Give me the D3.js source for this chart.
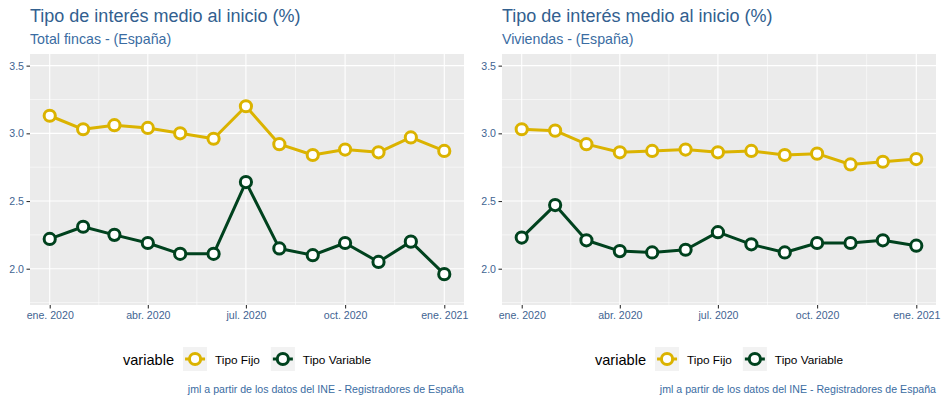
<!DOCTYPE html>
<html><head><meta charset="utf-8">
<script src="https://cdn.jsdelivr.net/npm/d3@7"></script>
<style>body{margin:0;background:#fff}svg{display:block}text{font-family:"Liberation Sans",Arial,sans-serif}</style>
</head><body><svg id="c" width="944" height="404"></svg>
<script>
const months = ["2020-01-01","2020-02-01","2020-03-01","2020-04-01","2020-05-01","2020-06-01","2020-07-01","2020-08-01","2020-09-01","2020-10-01","2020-11-01","2020-12-01","2021-01-01"];
const totalFijo = [3.13,3.03,3.06,3.04,3.00,2.96,3.20,2.92,2.84,2.88,2.86,2.97,2.87];
const totalVariable = [2.22,2.31,2.25,2.19,2.11,2.11,2.64,2.15,2.10,2.19,2.05,2.20,1.96];
const viviendasFijo = [3.03,3.02,2.92,2.86,2.87,2.88,2.86,2.87,2.84,2.85,2.77,2.79,2.81];
const viviendasVariable = [2.23,2.47,2.21,2.13,2.12,2.14,2.27,2.18,2.12,2.19,2.19,2.21,2.17];
const xTickDates = ["2020-01-01","2020-04-01","2020-07-01","2020-10-01","2021-01-01"];
const xTickLabels = ["ene. 2020","abr. 2020","jul. 2020","oct. 2020","ene. 2021"];
const yTicks = [2.0,2.5,3.0,3.5];
const yMinor = [1.75,2.25,2.75,3.25];
const seriesNames = ["Tipo Fijo","Tipo Variable"];
const seriesColors = ["#DBB300","#00421E"];
const title = "Tipo de interés medio al inicio (%)";
const subtitles = ["Total fincas - (España)","Viviendas - (España)"];
const caption = "jml a partir de los datos del INE - Registradores de España";
const legendTitle = "variable";

const svg = d3.select("#c");
const parse = d3.utcParse("%Y-%m-%d");
const dates = months.map(parse);
const tickDates = xTickDates.map(parse);
const pad = 18.3*864e5;
const titleColor = "#32608F";
const subColor = "#3A6CA2";
const axisColor = "#3F6492";

function panel(ox, sub, fijo, variable){
  const g = svg.append("g").attr("transform",`translate(${ox},0)`);
  const x = d3.scaleUtc().domain([new Date(+dates[0]-pad), new Date(+dates[12]+pad)]).range([30,464]);
  const y = d3.scaleLinear().domain([1.732,3.586]).range([305,54]);
  g.append("text").attr("x",30).attr("y",22).attr("font-size",18).attr("fill",titleColor).text(title);
  g.append("text").attr("x",30).attr("y",43.5).attr("font-size",14.2).attr("fill",subColor).text(sub);
  g.append("rect").attr("x",30).attr("y",54).attr("width",434).attr("height",251).attr("fill","#EBEBEB");
  const minorX = d3.pairs(tickDates).map(([a,b])=>new Date((+a + +b)/2));
  g.selectAll(".mnx").data(minorX).join("line").attr("x1",d=>x(d)).attr("x2",d=>x(d)).attr("y1",54).attr("y2",305).attr("stroke","#fff").attr("stroke-width",0.55);
  g.selectAll(".mny").data(yMinor).join("line").attr("x1",30).attr("x2",464).attr("y1",d=>y(d)).attr("y2",d=>y(d)).attr("stroke","#fff").attr("stroke-width",0.55);
  g.selectAll(".mjx").data(tickDates).join("line").attr("x1",d=>x(d)).attr("x2",d=>x(d)).attr("y1",54).attr("y2",305).attr("stroke","#fff").attr("stroke-width",1.1);
  g.selectAll(".mjy").data(yTicks).join("line").attr("x1",30).attr("x2",464).attr("y1",d=>y(d)).attr("y2",d=>y(d)).attr("stroke","#fff").attr("stroke-width",1.1);
  const xa = g.append("g").attr("transform","translate(0,305)").call(d3.axisBottom(x).tickValues(tickDates).tickFormat((d,i)=>xTickLabels[i]).tickSize(3.5).tickPadding(3));
  const ya = g.append("g").attr("transform","translate(30,0)").call(d3.axisLeft(y).tickValues(yTicks).tickFormat(d3.format(".1f")).tickSize(3.5).tickPadding(2.5));
  [xa,ya].forEach(a=>{a.select(".domain").remove();a.selectAll("line").attr("stroke","#333").attr("stroke-width",1.1);a.selectAll("text").attr("fill",axisColor).attr("font-size",10.6).attr("font-family","Liberation Sans, Arial, sans-serif");});
  const line = d3.line().x((d,i)=>x(dates[i])).y(d=>y(d));
  [fijo,variable].forEach((vals,k)=>{
    g.append("path").datum(vals).attr("d",line).attr("fill","none").attr("stroke",seriesColors[k]).attr("stroke-width",3).attr("stroke-linejoin","round");
    g.selectAll(null).data(vals).join("circle").attr("cx",(d,i)=>x(dates[i])).attr("cy",d=>y(d)).attr("r",5.6).attr("fill","#fff").attr("stroke",seriesColors[k]).attr("stroke-width",3);
  });
  const lg = g.append("g");
  const lt = lg.append("text").attr("y",364.5).attr("font-size",14.6).attr("fill","#000").text(legendTitle);
  let cx = lt.node().getComputedTextLength() + 9;
  seriesNames.forEach((n,k)=>{
    lg.append("rect").attr("x",cx).attr("y",347).attr("width",24).attr("height",24).attr("fill","#F2F2F2");
    lg.append("line").attr("x1",cx+2).attr("x2",cx+22).attr("y1",359).attr("y2",359).attr("stroke",seriesColors[k]).attr("stroke-width",3);
    lg.append("circle").attr("cx",cx+12).attr("cy",359).attr("r",5.6).attr("fill","#fff").attr("stroke",seriesColors[k]).attr("stroke-width",3);
    const t = lg.append("text").attr("x",cx+32).attr("y",363.5).attr("font-size",11.8).attr("fill","#000").text(n);
    cx += 32 + t.node().getComputedTextLength() + 11;
  });
  const w = cx - 11;
  lg.attr("transform",`translate(${247 - w/2},0)`);
  g.append("text").attr("x",464).attr("y",393).attr("text-anchor","end").attr("font-size",10.6).attr("fill",subColor).text(caption);
}
panel(0, subtitles[0], totalFijo, totalVariable);
panel(472, subtitles[1], viviendasFijo, viviendasVariable);
</script></body></html>
